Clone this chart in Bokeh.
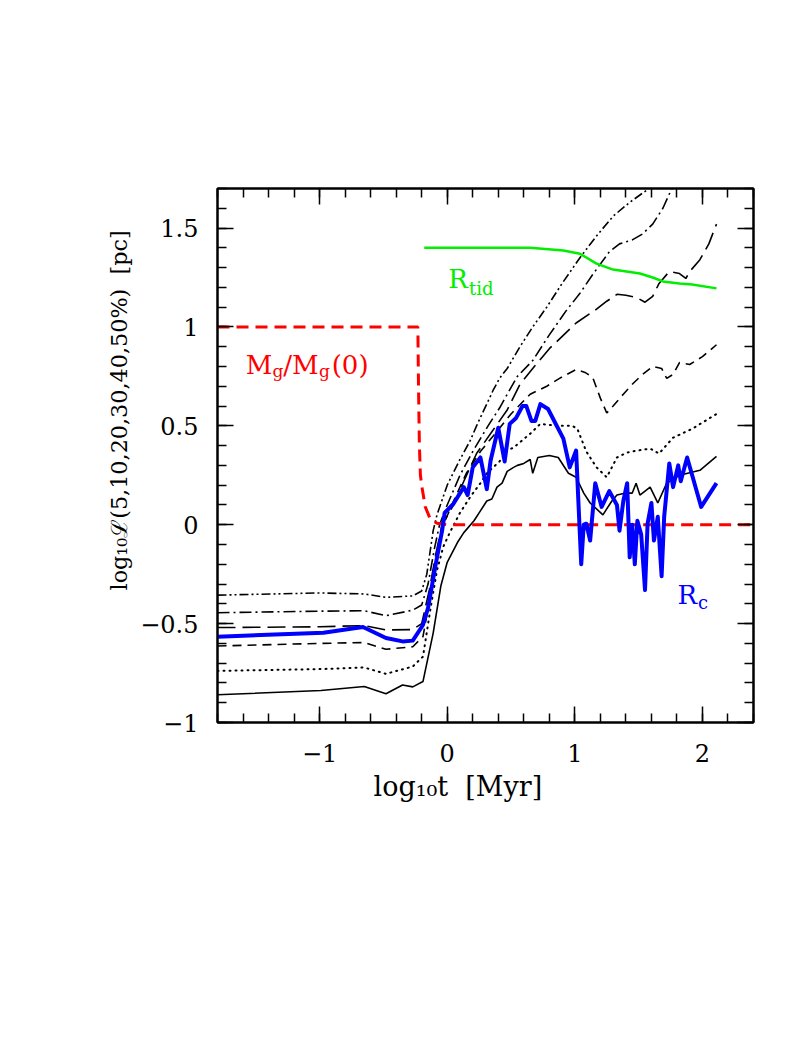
import numpy as np
from bokeh.plotting import figure
from bokeh.models import Range1d, FixedTicker, LinearAxis, Label, Title
from bokeh.embed import file_html
from bokeh.resources import INLINE

# ---------------- data ----------------
# Lagrangian radii (log10 pc) vs log10 t [Myr]
t5 = [-1.8, -0.99, -0.65, -0.48, -0.35, -0.27, -0.19, -0.11, -0.05, 0.0, 0.08, 0.13, 0.21, 0.26, 0.31, 0.35,
      0.39, 0.43, 0.47, 0.52, 0.55, 0.6, 0.65, 0.67, 0.71, 0.8, 0.87, 0.95, 1.01, 1.07, 1.12, 1.22, 1.29,
      1.33, 1.4, 1.45, 1.48, 1.51, 1.59, 1.65, 1.72, 1.82, 1.98, 2.11]
r5 = [-0.86, -0.838, -0.818, -0.855, -0.81, -0.82, -0.793, -0.548, -0.31, -0.19, -0.09, -0.04, 0.02, 0.07,
      0.12, 0.13, 0.19, 0.21, 0.27, 0.29, 0.30, 0.31, 0.33, 0.26, 0.34, 0.35, 0.34, 0.26, 0.24, 0.16, 0.11,
      0.05, 0.12, 0.15, 0.16, 0.16, 0.21, 0.15, 0.19, 0.11, 0.21, 0.25, 0.275, 0.345]

t10 = [-1.8, -1.0, -0.65, -0.48, -0.27, -0.19, -0.13, -0.08, -0.03, 0.02, 0.1, 0.18, 0.26, 0.31, 0.36, 0.41,
       0.47, 0.52, 0.65, 0.73, 0.86, 0.98, 1.02, 1.09, 1.17, 1.25, 1.33, 1.41, 1.49, 1.59, 1.66, 1.77, 1.92, 2.11]
r10 = [-0.739, -0.73, -0.722, -0.754, -0.717, -0.667, -0.42, -0.23, -0.11, -0.04, 0.06, 0.14, 0.21, 0.26,
       0.29, 0.32, 0.375, 0.39, 0.46, 0.51, 0.50, 0.50, 0.485, 0.37, 0.29, 0.24, 0.34, 0.365, 0.375, 0.385,
       0.36, 0.44, 0.485, 0.56]

t20 = [-1.8, -1.0, -0.65, -0.48, -0.27, -0.19, -0.13, -0.08, -0.03, 0.05, 0.15, 0.26, 0.4, 0.5, 0.65, 0.78,
       0.88, 1.01, 1.08, 1.14, 1.2, 1.25, 1.3, 1.38, 1.45, 1.53, 1.61, 1.68, 1.72, 1.77, 1.82, 1.9, 2.0, 2.11]
r20 = [-0.613, -0.60, -0.596, -0.63, -0.617, -0.566, -0.35, -0.15, 0.0, 0.12, 0.26, 0.37, 0.48, 0.56, 0.66,
       0.70, 0.74, 0.785, 0.77, 0.745, 0.64, 0.565, 0.6, 0.66, 0.71, 0.76, 0.80, 0.79, 0.74, 0.76, 0.82, 0.81,
       0.85, 0.91]

t30 = [-1.8, -1.0, -0.65, -0.48, -0.27, -0.2, -0.14, -0.09, -0.04, 0.05, 0.13, 0.23, 0.35, 0.47, 0.57, 0.67,
       0.8, 1.01, 1.17, 1.25, 1.33, 1.4, 1.48, 1.55, 1.61, 1.66, 1.74, 1.82, 1.87, 1.9, 1.98, 2.05, 2.11]
r30 = [-0.52, -0.516, -0.51, -0.532, -0.53, -0.5, -0.33, -0.15, 0.0, 0.1, 0.22, 0.36, 0.47, 0.58, 0.71, 0.79,
       0.89, 1.02, 1.09, 1.13, 1.165, 1.16, 1.15, 1.125, 1.155, 1.22, 1.28, 1.27, 1.245, 1.28, 1.34, 1.42, 1.52]

t40 = [-1.8, -1.0, -0.65, -0.48, -0.27, -0.2, -0.15, -0.1, -0.06, 0.0, 0.1, 0.2, 0.32, 0.41, 0.47, 0.55,
       0.67, 0.8, 0.93, 1.04, 1.14, 1.27, 1.35, 1.45, 1.53, 1.61, 1.69, 1.76, 1.8]
r40 = [-0.445, -0.437, -0.435, -0.46, -0.432, -0.406, -0.3, -0.12, 0.0, 0.1, 0.25, 0.37, 0.5, 0.59, 0.66,
       0.75, 0.83, 0.96, 1.08, 1.17, 1.265, 1.38, 1.42, 1.44, 1.47, 1.52, 1.60, 1.70, 1.75]

t50 = [-1.8, -1.0, -0.65, -0.48, -0.27, -0.2, -0.16, -0.11, -0.08, 0.0, 0.1, 0.18, 0.23, 0.36, 0.41, 0.47,
       0.57, 0.67, 0.78, 0.9, 1.04, 1.17, 1.3, 1.43, 1.56, 1.62]
r50 = [-0.356, -0.345, -0.35, -0.367, -0.36, -0.335, -0.25, -0.03, 0.05, 0.2, 0.33, 0.425, 0.5, 0.68, 0.74,
       0.79, 0.9, 1.0, 1.1, 1.22, 1.35, 1.46, 1.56, 1.63, 1.69, 1.73]

# core radius
tc = [-1.8, -0.97, -0.66, -0.48, -0.35, -0.27, -0.19, -0.15, -0.09, -0.04, -0.02, 0.05, 0.13, 0.16, 0.20,
      0.26, 0.31, 0.34, 0.40, 0.45, 0.49, 0.54, 0.59, 0.62, 0.66, 0.69, 0.73, 0.79, 0.91, 0.96, 1.01, 1.05,
      1.07, 1.09, 1.12, 1.16, 1.21, 1.27, 1.33, 1.35, 1.38, 1.41, 1.43, 1.45, 1.47, 1.49, 1.52, 1.55, 1.57,
      1.60, 1.62, 1.65, 1.68, 1.70, 1.74, 1.77, 1.81, 1.83, 1.88, 1.99, 2.11]
rc = [-0.566, -0.546, -0.517, -0.573, -0.59, -0.586, -0.507, -0.42, -0.2, -0.03, 0.06, 0.107, 0.19, 0.15,
      0.29, 0.34, 0.18, 0.325, 0.49, 0.32, 0.51, 0.54, 0.60, 0.60, 0.525, 0.525, 0.61, 0.585, 0.435, 0.29,
      0.375, -0.2, 0.0, 0.005, -0.08, 0.21, 0.09, 0.17, 0.1, -0.03, 0.12, 0.21, -0.165, 0.0, -0.2, 0.02,
      -0.05, -0.33, 0.005, 0.11, -0.08, 0.04, -0.26, 0.04, 0.31, 0.19, 0.30, 0.22, 0.34, 0.09, 0.21]

# tidal radius
ttid = [-0.18, 0.3, 0.65, 0.91, 1.04, 1.17, 1.30, 1.51, 1.61, 1.69, 1.82, 1.92, 2.11]
rtid = [1.40, 1.40, 1.40, 1.387, 1.37, 1.32, 1.29, 1.27, 1.25, 1.23, 1.22, 1.215, 1.195]

# gas mass fraction
tg = [-1.8, -0.23, -0.225, -0.218, -0.21, -0.198, -0.172, -0.133, -0.08, 0.0, 2.4]
mg = [1.0, 1.0, 0.7, 0.4, 0.25, 0.19, 0.09, 0.03, 0.007, 0.0, 0.0]

x_major = [-1, 0, 1, 2]
x_labels = {-1: "\u22121", 0: "0", 1: "1", 2: "2"}
y_major = [-1, -0.5, 0, 0.5, 1, 1.5]
y_labels = {-1: "\u22121", -0.5: "\u22120.5", 0: "0", 0.5: "0.5", 1: "1", 1.5: "1.5"}

FONT = "DejaVu Serif"

# ---------------- figure ----------------
W, H = 790, 1000
p = figure(width=W, height=H, output_backend="svg", toolbar_location=None,
           x_range=Range1d(-1.8, 2.4), y_range=Range1d(-1.0, 1.7),
           min_border_left=217, min_border_right=37, min_border_top=188, min_border_bottom=278)
p.grid.visible = False
p.outline_line_color = "black"
p.outline_line_width = 2
p.background_fill_color = "white"
p.border_fill_color = "white"

xt = FixedTicker(ticks=x_major, minor_ticks=list(np.round(np.arange(-1.8, 2.41, 0.2), 3)))
yt = FixedTicker(ticks=y_major, minor_ticks=list(np.round(np.arange(-1.0, 1.71, 0.1), 3)))


def style_axis(ax, show_labels):
    ax.axis_line_width = 2
    ax.axis_line_color = "black"
    ax.major_tick_in = 16
    ax.major_tick_out = 0
    ax.minor_tick_in = 9
    ax.minor_tick_out = 0
    ax.major_tick_line_width = 1.5
    ax.minor_tick_line_width = 1.5
    ax.major_tick_line_color = "black"
    ax.minor_tick_line_color = "black"
    if show_labels:
        ax.major_label_text_font = FONT
        ax.major_label_text_font_size = "24px"
        ax.major_label_text_color = "black"
    else:
        ax.major_label_text_color = None
        ax.major_label_standoff = 0


p.xaxis[0].ticker = xt
p.yaxis[0].ticker = yt
p.xaxis[0].major_label_overrides = x_labels
p.yaxis[0].major_label_overrides = y_labels
style_axis(p.xaxis[0], True)
style_axis(p.yaxis[0], True)
p.xaxis[0].major_label_standoff = 21
p.yaxis[0].major_label_standoff = 19

top = LinearAxis(ticker=xt)
right = LinearAxis(ticker=yt)
style_axis(top, False)
style_axis(right, False)
p.add_layout(top, "above")
p.add_layout(right, "right")

# axis titles (offset so they sit where the reference has them)
p.add_layout(Title(text="log\u2081\u2080t\u00a0\u00a0[Myr]", align="left", offset=156, standoff=8,
                   text_font=FONT, text_font_size="27px", text_font_style="normal",
                   text_color="black"), "below")
p.add_layout(Title(text="log\u2081\u2080\u2112(5,10,20,30,40,50%)\u00a0\u00a0[pc]", align="left", offset=132,
                   standoff=11, text_font=FONT, text_font_size="22.3px", text_font_style="normal",
                   text_color="black"), "left")

# ---------------- lines ----------------
p.line(t5, r5, line_color="black", line_width=1.6)
p.line(t10, r10, line_color="black", line_width=2, line_dash="1 5", line_cap="round")
p.line(t20, r20, line_color="black", line_width=1.6, line_dash="9 6")
p.line(t30, r30, line_color="black", line_width=1.6, line_dash="18 7")
p.line(t40, r40, line_color="black", line_width=1.6, line_dash="12 4 2 4")
p.line(t50, r50, line_color="black", line_width=1.6, line_dash="9 3 2 3 2 3")

p.line(ttid, rtid, line_color="#00ee00", line_width=2.5)
p.line(tg, mg, line_color="#ff0000", line_width=3, line_dash="12 7")
p.line(tc, rc, line_color="#0000ff", line_width=4, line_join="round")

# ---------------- text labels ----------------
def lab(x, y, text, color, size):
    p.add_layout(Label(x=x, y=y, text=text, text_color=color, text_font=FONT,
                       text_font_size=size, text_baseline="alphabetic"))

# M_g/M_g(0)
lab(-1.578, 0.808, "M", "#ff0000", "26px")
lab(-1.37, 0.775, "g", "#ff0000", "17px")
lab(-1.285, 0.808, "/M", "#ff0000", "26px")
lab(-1.005, 0.775, "g", "#ff0000", "17px")
lab(-0.905, 0.808, "(0)", "#ff0000", "26px")
# R_tid
lab(0.008, 1.244, "R", "#00ee00", "26px")
lab(0.17, 1.196, "tid", "#00ee00", "18px")
# R_c
lab(1.805, -0.356, "R", "#0000ff", "26px")
lab(1.965, -0.395, "c", "#0000ff", "18px")

open("out.html", "w").write(file_html(p, INLINE))
